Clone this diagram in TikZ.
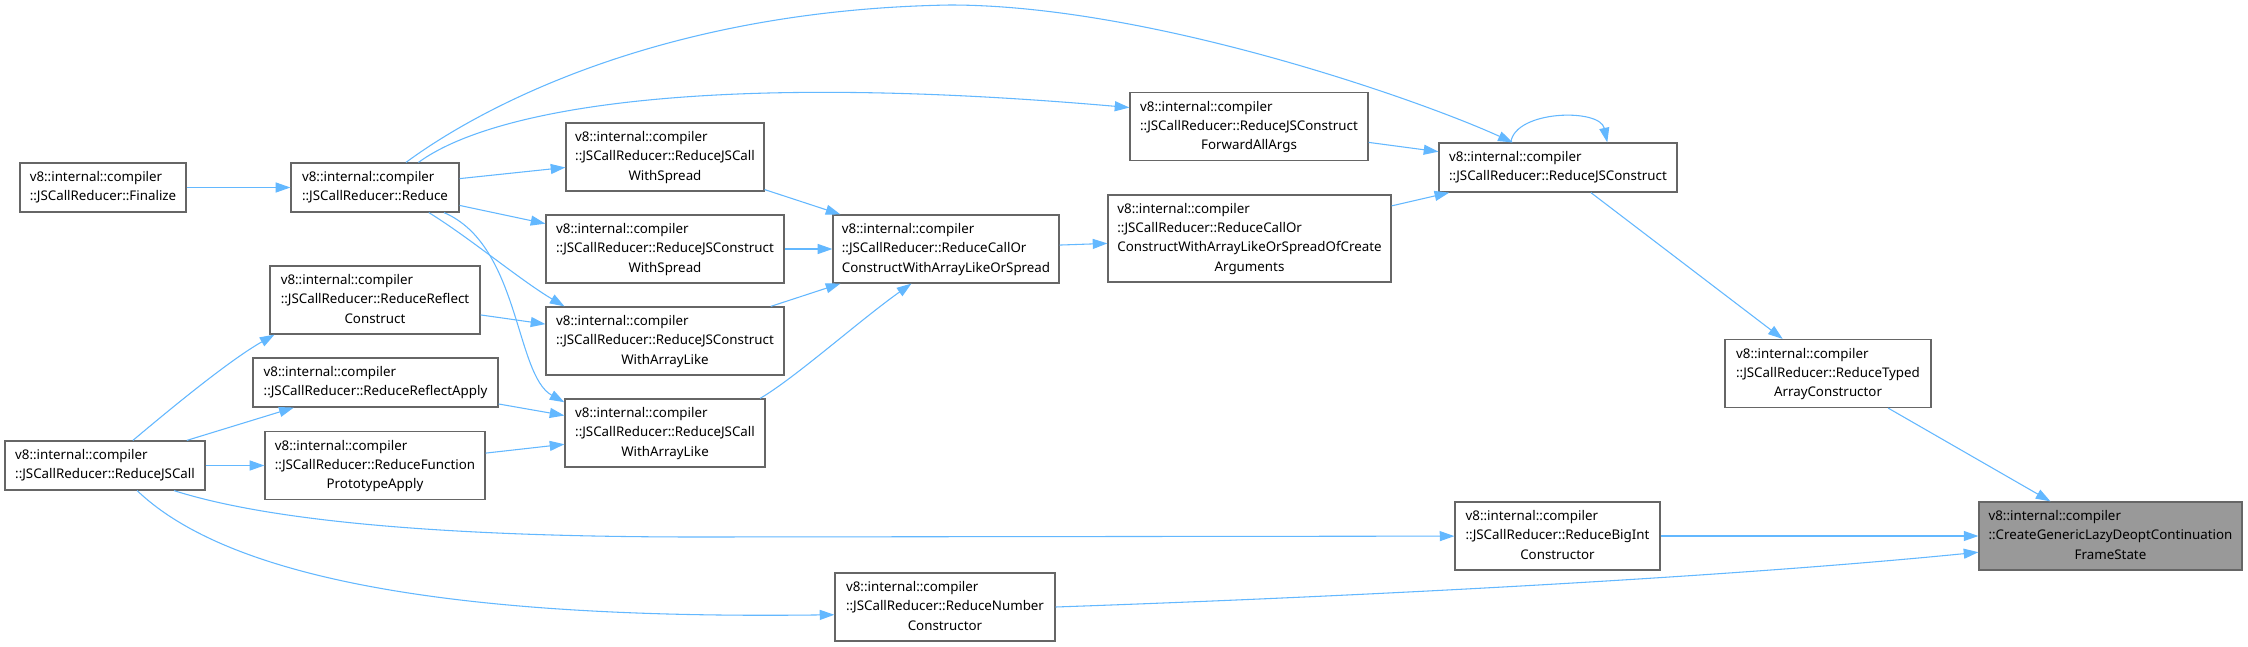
\documentclass[tikz,border=0pt]{standalone}
\usepackage{fontspec}
\setmainfont{Noto Sans}
\usepackage{tikz}
\usetikzlibrary{arrows.meta, calc}
\usepackage{xcolor}
\definecolor{edgeblue}{HTML}{63B8FF}
\definecolor{boxgray}{HTML}{666666}
\definecolor{hlgray}{HTML}{999999}

% label: left aligned lines, last line centred
\newcommand{\fnl}[2]{\begin{tabular}{@{}l@{}}#1\\\multicolumn{1}{@{}c@{}}{#2}\end{tabular}}

\begin{document}
\begin{tikzpicture}[x=0.75pt, y=-0.75pt,
    every node/.style={font=\fontsize{10}{14.4}\selectfont},
    fn/.style={draw=boxgray, line width=0.9pt, fill=#1, inner sep=2pt},
    fn/.default=white,
    two/.style={minimum height=36.75pt},
    three/.style={minimum height=51pt},
    four/.style={minimum height=65.25pt},
    call/.style={->, draw=edgeblue, line width=0.8pt},
    >={Triangle[length=11pt, width=7.5pt]},
  ]
  \path[use as bounding box, fill=white] (0,0) rectangle (2248,646);

  % column 1
  \node[fn, two, minimum width=124.5pt] (fin) at (103,187.5)
    {\fnl{v8::internal::compiler}{::JSCallReducer::Finalize}};
  \node[fn, two, minimum width=150pt] (rjc) at (105,465.5)
    {\fnl{v8::internal::compiler}{::JSCallReducer::ReduceJSCall}};

  % column 2
  \node[fn, two, minimum width=126pt] (red) at (375,187.5)
    {\fnl{v8::internal::compiler}{::JSCallReducer::Reduce}};
  \node[fn, three, minimum width=157.5pt] (rfc) at (375,300)
    {\fnl{v8::internal::compiler\\::JSCallReducer::ReduceReflect}{Construct}};
  \node[fn, two, minimum width=183.75pt] (rfa) at (375.5,382.5)
    {\fnl{v8::internal::compiler}{::JSCallReducer::ReduceReflectApply}};
  \node[fn, three, minimum width=165pt] (fpa) at (375,465.5)
    {\fnl{v8::internal::compiler\\::JSCallReducer::ReduceFunction}{PrototypeApply}};

  % column 3
  \node[fn, three, minimum width=148.5pt] (cws) at (665,157)
    {\fnl{v8::internal::compiler\\::JSCallReducer::ReduceJSCall}{WithSpread}};
  \node[fn, three, minimum width=178.5pt] (cnws) at (665,249)
    {\fnl{v8::internal::compiler\\::JSCallReducer::ReduceJSConstruct}{WithSpread}};
  \node[fn, three, minimum width=178.5pt] (cnwal) at (665,341)
    {\fnl{v8::internal::compiler\\::JSCallReducer::ReduceJSConstruct}{WithArrayLike}};
  \node[fn, three, minimum width=150pt] (cwal) at (665,433)
    {\fnl{v8::internal::compiler\\::JSCallReducer::ReduceJSCall}{WithArrayLike}};

  % column 4
  \node[fn, three, minimum width=169.5pt] (coc) at (946,249)
    {\fnl{v8::internal::compiler\\::JSCallReducer::ReduceCallOr}{ConstructWithArrayLikeOrSpread}};
  \node[fn, three, minimum width=165pt] (num) at (945,607)
    {\fnl{v8::internal::compiler\\::JSCallReducer::ReduceNumber}{Constructor}};

  % column 5
  \node[fn, three, minimum width=178.5pt] (fwd) at (1249,126.5)
    {\fnl{v8::internal::compiler\\::JSCallReducer::ReduceJSConstruct}{ForwardAllArgs}};
  \node[fn, four, minimum width=212.25pt] (oca) at (1249.5,238.5)
    {\fnl{v8::internal::compiler\\::JSCallReducer::ReduceCallOr\\ConstructWithArrayLikeOrSpreadOfCreate}{Arguments}};

  % column 6
  \node[fn, two, minimum width=178.5pt] (rjcn) at (1558,167.5)
    {\fnl{v8::internal::compiler}{::JSCallReducer::ReduceJSConstruct}};
  \node[fn, three, minimum width=153.75pt] (bigint) at (1557.5,536)
    {\fnl{v8::internal::compiler\\::JSCallReducer::ReduceBigInt}{Constructor}};

  % columns 7 and 8
  \node[fn, three, minimum width=154.5pt] (tac) at (1828,373.5)
    {\fnl{v8::internal::compiler\\::JSCallReducer::ReduceTyped}{ArrayConstructor}};
  \node[fn=hlgray, three, minimum width=197.25pt] (cg) at (2110.5,536)
    {\fnl{v8::internal::compiler\\::CreateGenericLazyDeoptContinuation}{FrameState}};

  % straight calls
  \draw[call] (fin) -- (red);
  \draw[call] (red) -- (cws);
  \draw[call] (red) -- (cnws);
  \draw[call] (cws) -- (coc);
  \draw[call] (cnws) -- (coc);
  \draw[call] (cnwal) -- (coc);
  \draw[call] (coc) -- (oca);
  \draw[call] (fwd) -- (rjcn);
  \draw[call] (oca) -- (rjcn.193);
  \draw[call] (rjcn) -- (tac);
  \draw[call] (tac) -- (cg);
  \draw[call] (bigint) -- (cg);
  \draw[call] (rjc) -- (rfa);
  \draw[call] (rjc) -- (fpa);
  \draw[call] (rfc) -- (cnwal);
  \draw[call] (rfa) -- (cwal);
  \draw[call] (fpa) -- (cwal);

  % curved calls
  \draw[call] (red.39) .. controls (470,115) and (650,10) .. (950,5)
    .. controls (1150,5) and (1420,100) .. (rjcn.151);
  \draw[call] (red.30) .. controls (490,110) and (700,70) .. (fwd.171);
  \draw[call] (rjcn.152) .. controls (1515,110) and (1600,108) .. (rjcn.27);
  \draw[call] (red.-25) .. controls (470,238) and (520,280) .. (cnwal.161);
  \draw[call] (red.-20) .. controls (520,245) and (515,375) .. (cwal.163);
  \draw[call] (cwal.20) .. controls (795,378) and (860,320) .. (coc.-135);
  \draw[call] (rjc.42) .. controls (175,405) and (230,360) .. (rfc.199);
  \draw[call] (rjc.-20) .. controls (260,518) and (420,537) .. (700,537) -- (bigint);
  \draw[call] (rjc.-38) .. controls (220,570) and (420,620) .. (num.184);
  \draw[call] (num.east) .. controls (1400,595) and (1750,575) .. (cg.187);
\end{tikzpicture}
\end{document}
